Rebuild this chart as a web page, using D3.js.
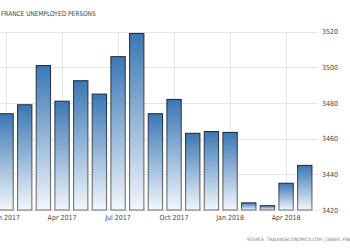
<!DOCTYPE html>
<html>
<head>
<meta charset="utf-8">
<script src="https://cdn.jsdelivr.net/npm/d3@7"></script>
<style>
  body { margin: 0; background: #fff; }
  svg { display: block; }
</style>
</head>
<body>
<div id="chart"></div>
<script>
let months = ["2017-01", "2017-02", "2017-03", "2017-04", "2017-05", "2017-06", "2017-07", "2017-08",
  "2017-09", "2017-10", "2017-11", "2017-12", "2018-01", "2018-02", "2018-03", "2018-04", "2018-05"];
let values = [3474, 3479, 3501, 3481, 3492.5, 3485, 3506, 3519, 3474, 3482, 3463, 3464, 3463.5, 3424, 3422.4, 3435, 3445];
let tickMonths = ["2017-01", "2017-04", "2017-07", "2017-10", "2018-01", "2018-04"];
let tickLabels = ["Jan 2017", "Apr 2017", "Jul 2017", "Oct 2017", "Jan 2018", "Apr 2018"];
let yTicks = [3420, 3440, 3460, 3480, 3500, 3520];

let width = 350, height = 250;
let plotRight = 318, plotTop = 31.7, plotBottom = 210;
let font = "'DejaVu Sans Condensed', 'DejaVu Sans', sans-serif";

let svg = d3.select("#chart").append("svg")
  .attr("width", width)
  .attr("height", height);

let defs = svg.append("defs");
let grad = defs.append("linearGradient")
  .attr("id", "barFill")
  .attr("x1", 0).attr("y1", 0).attr("x2", 0).attr("y2", 1);
grad.append("stop").attr("offset", "0%").attr("stop-color", "#3a77b4");
grad.append("stop").attr("offset", "100%").attr("stop-color", "#f2f7fc");

let strokeGrad = defs.append("linearGradient")
  .attr("id", "barStroke")
  .attr("x1", 0).attr("y1", 0).attr("x2", 0).attr("y2", 1);
strokeGrad.append("stop").attr("offset", "0%").attr("stop-color", "#233040");
strokeGrad.append("stop").attr("offset", "100%").attr("stop-color", "#7a7a7a");

let x = d3.scaleBand()
  .domain(months)
  .range([-3.3, 314.1])
  .paddingInner(0.234)
  .paddingOuter(0.117);

let y = d3.scaleLinear()
  .domain([3420, 3520])
  .range([plotBottom, plotTop]);

// grid
svg.append("g")
  .selectAll("line")
  .data(yTicks)
  .join("line")
  .attr("x1", 0)
  .attr("x2", plotRight)
  .attr("y1", d => Math.round(y(d)) + 0.5)
  .attr("y2", d => Math.round(y(d)) + 0.5)
  .attr("stroke", "#e6e6e6");

svg.append("g")
  .selectAll("line")
  .data(tickMonths)
  .join("line")
  .attr("x1", d => Math.round(x(d) + x.bandwidth() / 2) + 0.5)
  .attr("x2", d => Math.round(x(d) + x.bandwidth() / 2) + 0.5)
  .attr("y1", plotTop)
  .attr("y2", plotBottom)
  .attr("stroke", "#e6e6e6");

// bars
svg.append("g")
  .selectAll("rect")
  .data(months)
  .join("rect")
  .attr("x", d => x(d))
  .attr("width", x.bandwidth())
  .attr("y", (d, i) => y(values[i]))
  .attr("height", (d, i) => y(3420) - y(values[i]))
  .attr("fill", "url(#barFill)")
  .attr("stroke", "url(#barStroke)")
  .attr("stroke-width", 1.1);

// y axis labels
let yAxis = svg.append("g")
  .attr("transform", "translate(" + (plotRight + 4) + ",0)")
  .call(d3.axisRight(y).tickValues(yTicks).tickSize(0).tickPadding(0).tickFormat(d3.format("d")));
yAxis.select(".domain").remove();
yAxis.selectAll("text")
  .attr("fill", "#444")
  .style("font-family", font)
  .style("font-size", "7px");

// x axis labels
let xAxis = svg.append("g")
  .attr("transform", "translate(0," + (plotBottom + 5) + ")")
  .call(d3.axisBottom(x).tickValues(tickMonths).tickSize(0).tickPadding(0)
    .tickFormat((d, i) => tickLabels[i]));
xAxis.select(".domain").remove();
xAxis.selectAll("text")
  .attr("fill", "#444")
  .style("font-family", font)
  .style("font-size", "7px");

// title
svg.append("text")
  .attr("x", 1)
  .attr("y", 16)
  .attr("fill", "#444")
  .style("font-family", font)
  .style("font-size", "6.5px")
  .text("FRANCE UNEMPLOYED PERSONS");

// source
svg.append("text")
  .attr("x", 247)
  .attr("y", 241)
  .attr("fill", "#777")
  .style("font-family", font)
  .style("font-size", "4.6px")
  .text("SOURCE: TRADINGECONOMICS.COM | DARES, FRANCE");
</script>
</body>
</html>
